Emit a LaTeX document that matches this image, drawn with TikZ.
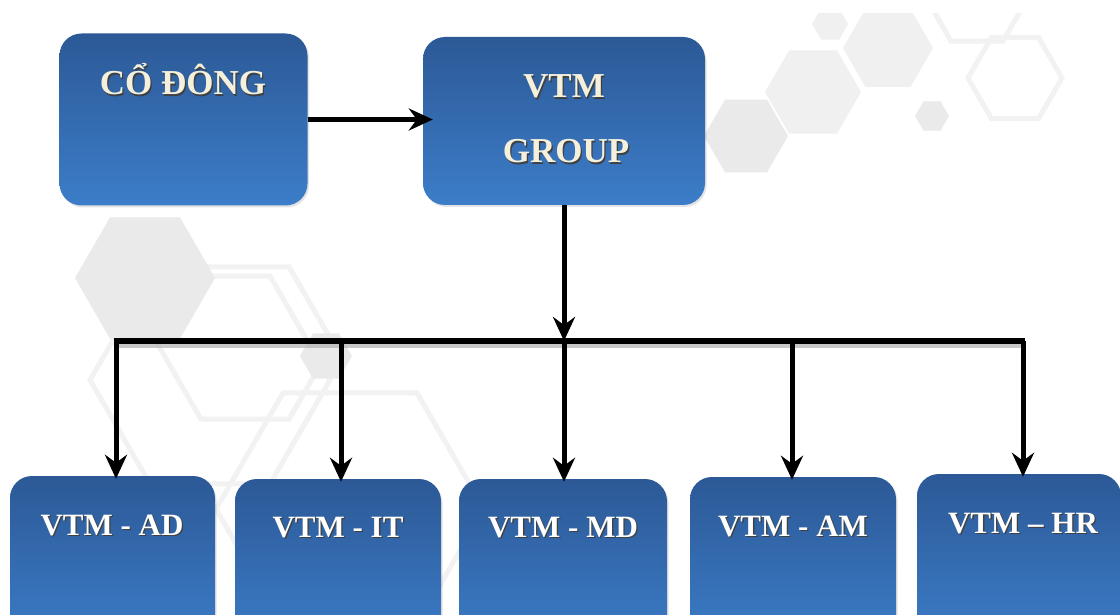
\documentclass[tikz,border=0pt]{standalone}
\usepackage{fontspec}
\setmainfont{Liberation Serif}
\usetikzlibrary{arrows.meta,shadows}
\definecolor{boxtop}{RGB}{44,89,150}
\definecolor{boxbot}{RGB}{60,125,201}
\definecolor{cream}{RGB}{244,240,220}
\definecolor{hexfill}{RGB}{234,234,234}
\definecolor{hexfillb}{RGB}{240,240,240}
\definecolor{hexline}{RGB}{242,242,242}
\newcommand{\hexpath}[4]{\path[#1] (#2,#3) ++(0:#4) -- ++(120:#4) -- ++(180:#4) -- ++(240:#4) -- ++(300:#4) -- ++(0:#4) -- cycle;}
\newcommand{\shtxt}[2]{\makebox[0pt][l]{\hspace{1.3pt}\raisebox{-1.3pt}{\color{black!75}#2}}{\color{#1}#2}}
\tikzset{
  box/.style={rounded corners=22pt, top color=boxtop, bottom color=boxbot, draw=none, inner sep=0pt,
    drop shadow={opacity=0.22, shadow xshift=1.5pt, shadow yshift=-2pt}},
  toptxt/.style={anchor=base, inner sep=0pt, font=\fontsize{35}{40}\selectfont\bfseries},
  bottxt/.style={anchor=base, inner sep=0pt, font=\fontsize{31}{36}\selectfont\bfseries},
  arr/.style={line width=5pt, -{Stealth[length=24pt, width=22pt, inset=8pt]}},
  busline/.style={line width=6pt},
  hexf/.style={fill=hexfill},
  hexg/.style={fill=hexfillb},
  hexo/.style={draw=hexline, line width=5pt}
}
\begin{document}
\begin{tikzpicture}[x=1pt,y=-1pt]
\useasboundingbox (0,0) rectangle (1120,615);
\fill[white] (0,0) rectangle (1120,615);
% background hexagons
\begin{scope}
\clip (0,14) rectangle (1120,615);
\hexpath{hexo}{977}{-4}{52}
\hexpath{hexo}{1015}{78}{47}
\hexpath{hexg}{888}{48}{45}
\hexpath{hexg}{830}{24}{18}
\hexpath{hexg}{813}{92}{48}
\hexpath{hexf}{746}{136}{42}
\hexpath{hexf}{932}{116}{17}
\hexpath{hexo}{210}{380}{120}
\hexpath{hexo}{245}{343}{88}
\hexpath{hexo}{350}{509}{134}
\hexpath{hexf}{145}{278}{70}
\hexpath{hexf}{326}{356}{26}
\end{scope}
% boxes
\node[box, minimum width=248pt, minimum height=172pt] (co) at (183.5,119.5) {};
\node[box, minimum width=282pt, minimum height=168pt] (vg) at (564,121) {};
\node[box, minimum width=205pt, minimum height=170pt] (ad) at (112.5,561) {};
\node[box, minimum width=206pt, minimum height=170pt] (it) at (338,564) {};
\node[box, minimum width=208pt, minimum height=170pt] (md) at (563,564) {};
\node[box, minimum width=206pt, minimum height=170pt] (am) at (793,562) {};
\node[box, minimum width=204pt, minimum height=170pt] (hr) at (1019,559) {};
% texts
\node[toptxt] (cot) at (183,95) {\shtxt{cream}{CỔ ĐÔNG}};
\node[toptxt] (vgt1) at (564,98) {\shtxt{cream}{VTM}};
\node[toptxt] (vgt2) at (566,163) {\shtxt{cream}{GROUP}};
\node[bottxt] (adt) at (112,535) {\shtxt{white}{VTM - AD}};
\node[bottxt] (itt) at (338,537) {\shtxt{white}{VTM - IT}};
\node[bottxt] (mdt) at (563,537) {\shtxt{white}{VTM - MD}};
\node[bottxt] (amt) at (793,536) {\shtxt{white}{VTM - AM}};
\node[bottxt] (hrt) at (1023,533) {\shtxt{white}{VTM – HR}};
% connectors
\coordinate (busL) at (114,341);
\coordinate (busR) at (1025,341);
\coordinate (bus) at (564,341);
\coordinate (d1) at (116,341);
\coordinate (d2) at (341,341);
\coordinate (d3) at (564,341);
\coordinate (d4) at (792,341);
\coordinate (d5) at (1023,341);
\draw[busline, black!35, opacity=0.6] ([yshift=-4pt]busL) -- ([yshift=-4pt]busR);
\draw[busline] (busL) -- (busR);
\draw[arr, shorten >=-10pt] (co.east) -- (co.east -| vg.west);
\draw[arr] (vg.south) -- (bus);
\draw[arr, shorten >=-3pt] (d1) -- (d1 |- ad.north);
\draw[arr, shorten >=-3pt] (d2) -- (d2 |- it.north);
\draw[arr, shorten >=-3pt] (d3) -- (d3 |- md.north);
\draw[arr, shorten >=-3pt] (d4) -- (d4 |- am.north);
\draw[arr, shorten >=-3pt] (d5) -- (d5 |- hr.north);
\end{tikzpicture}
\end{document}
